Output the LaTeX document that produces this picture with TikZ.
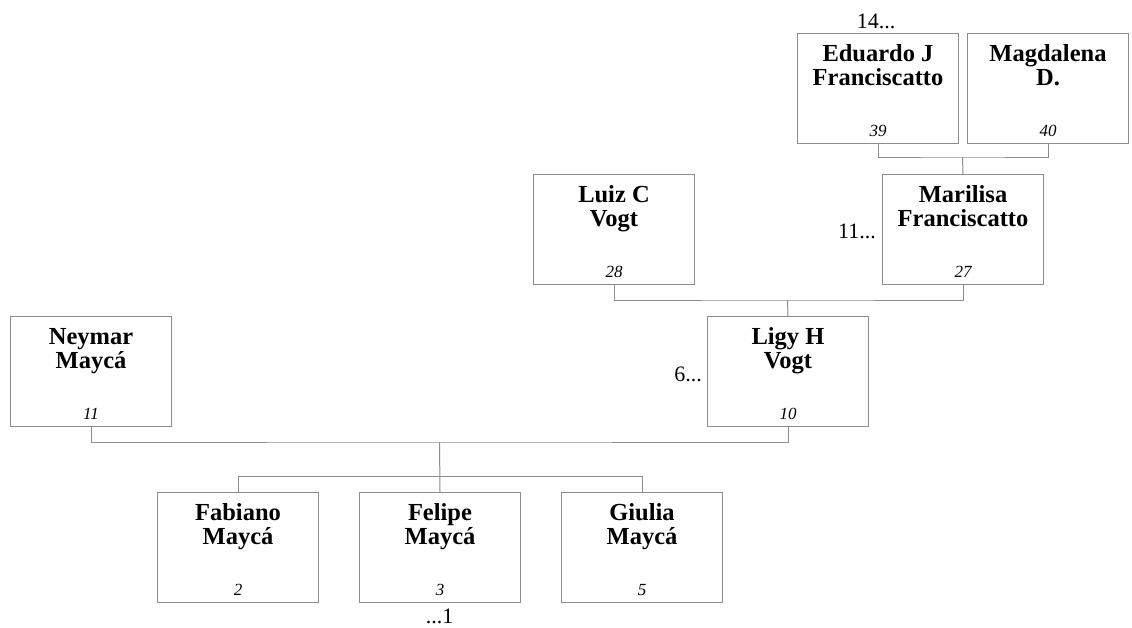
\documentclass[tikz,border=0pt]{standalone}
\usepackage{fontspec}
\setmainfont{Liberation Serif}
\definecolor{linegray}{RGB}{140,140,140}
\newcommand\personbox[6]{%
  \node[pbox] (#1) at (#2,#3) {};
  \node[nm] (#1-a) at ([yshift=-28.5pt]#1.north) {#4};
  \node[nm] (#1-b) at ([yshift=-52pt]#1.north) {#5};
  \node[num] (#1-n) at ([yshift=8pt]#1.south) {#6};
}
\begin{document}
\begin{tikzpicture}[x=1pt,y=-1pt,
  pbox/.style={draw=linegray, line width=1pt, minimum width=161pt, minimum height=110pt, inner sep=0pt, anchor=north west},
  conn/.style={draw=linegray, line width=1pt},
  nm/.style={font=\fontsize{24.5}{26}\selectfont\bfseries, anchor=base, inner sep=0pt},
  num/.style={font=\fontsize{17}{19}\selectfont\itshape, anchor=base, inner sep=0pt},
  tag/.style={font=\fontsize{22}{26}\selectfont, inner sep=0pt}]
\useasboundingbox (0,0) rectangle (1132,627);
\personbox{edu}{797}{33}{Eduardo J}{Franciscatto}{39}
\personbox{mag}{967}{33}{Magdalena}{D.}{40}
\personbox{mar}{882}{174}{Marilisa}{Franciscatto}{27}
\personbox{lui}{533}{174}{Luiz C}{Vogt}{28}
\personbox{lig}{707}{316}{Ligy H}{Vogt}{10}
\personbox{ney}{10}{316}{Neymar}{Maycá}{11}
\personbox{fab}{157}{492}{Fabiano}{Maycá}{2}
\personbox{fel}{359}{492}{Felipe}{Maycá}{3}
\personbox{giu}{561}{492}{Giulia}{Maycá}{5}
% tags
\node[tag, anchor=base] (t14) at (876,28) {14...};
\node[tag, anchor=base east] (t11) at (876,238) {11...};
\node[tag, anchor=base east] (t6) at (702,381) {6...};
\node[tag, anchor=base] (t1) at (439.5,623) {...1};
% connectors
\coordinate (j1) at (962.5,157);
\coordinate (j2) at (787.5,300);
\coordinate (j3) at (439.5,442);
\draw[conn] (edu.south) |- (j1) -| (mag.south);
\draw[conn] (j1) -- (mar.north);
\draw[conn] (lui.south) |- (j2) -| (mar.south);
\draw[conn] (j2) -- (lig.north);
\draw[conn] (ney.south) |- (j3) -| (lig.south);
\draw[conn] (j3) -- (fel.north);
\draw[conn] (fab.north) -- ++(0,-16) -| (giu.north);
\end{tikzpicture}
\end{document}
